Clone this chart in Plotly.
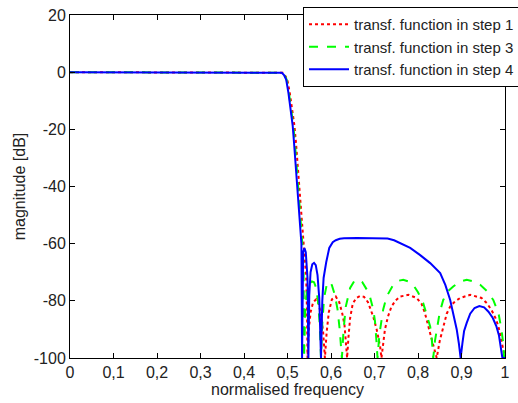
import plotly.graph_objects as go

# Magnitude responses (dB) versus normalised frequency for three design steps

# step 1 (red, dotted)
freq_step1 = [0, 0.48, 0.489, 0.494, 0.4995, 0.505, 0.511, 0.516, 0.5195, 0.5225, 0.5255,
              0.529, 0.532, 0.535, 0.538, 0.541, 0.543, 0.545, 0.546, 0.549, 0.553, 0.559,
              0.566, 0.572, 0.578, 0.582, 0.586, 0.590, 0.595, 0.602, 0.611, 0.619, 0.626,
              0.631, 0.634, 0.637, 0.640, 0.644, 0.650, 0.658, 0.667, 0.676, 0.685, 0.697,
              0.705, 0.709, 0.713, 0.716, 0.720, 0.724, 0.731, 0.739, 0.749, 0.759, 0.778,
              0.797, 0.808, 0.816, 0.828, 0.834, 0.843, 0.850, 0.858, 0.866, 0.874, 0.885,
              0.897, 0.920, 0.946, 0.958, 0.969, 0.978, 0.985, 0.992, 0.997, 1.0]
mag_step1 = [0, 0, -0.2, -1.0, -2.6, -7.0, -13.0, -18.8, -24.7, -30.5, -36.4,
             -42.2, -48.1, -54.0, -60.0, -66.0, -72.0, -85.0, -100, -90.0, -84.0, -80.5,
             -79.5, -81.0, -86.0, -91.0, -100, -91.0, -84.0, -79.5, -78.5, -80.5, -84.5,
             -88.4, -93.0, -100, -93.0, -86.0, -81.0, -79.0, -78.3, -78.6, -80.5, -85.5,
             -90.0, -92.5, -96.0, -100, -94.0, -90.0, -85.5, -82.0, -79.8, -78.5, -77.9,
             -79.0, -81.0, -84.3, -91.4, -95.0, -100, -94.0, -89.0, -84.5, -82.0, -80.2,
             -79.0, -77.9, -79.0, -80.8, -83.2, -86.0, -89.0, -93.7, -97.5, -100]

# step 3 (green, dashed)
freq_step3 = [0, 0.48, 0.488, 0.493, 0.498, 0.503, 0.5085, 0.5135, 0.517, 0.520, 0.523,
              0.526, 0.529, 0.532, 0.535, 0.537, 0.538, 0.541, 0.545, 0.550, 0.556, 0.561,
              0.566, 0.570, 0.574, 0.577, 0.580, 0.584, 0.590, 0.596, 0.602, 0.609, 0.615,
              0.620, 0.625, 0.629, 0.634, 0.644, 0.654, 0.663, 0.672, 0.682, 0.690, 0.697,
              0.701, 0.704, 0.707, 0.710, 0.713, 0.720, 0.728, 0.743, 0.755, 0.766, 0.778,
              0.789, 0.800, 0.812, 0.822, 0.828, 0.832, 0.835, 0.839, 0.843, 0.850, 0.858,
              0.870, 0.881, 0.896, 0.912, 0.928, 0.943, 0.958, 0.973, 0.985, 0.992, 0.996,
              0.998, 1.0]
mag_step3 = [0, 0, -0.2, -1.0, -2.6, -7.0, -13.0, -18.8, -24.7, -30.5, -36.4,
             -42.2, -48.1, -54.0, -62.0, -70.0, -100, -82.0, -76.0, -74.0, -73.2, -73.5,
             -75.5, -80.0, -88.0, -100, -88.0, -79.0, -74.5, -73.2, -74.5, -78.0, -83.0,
             -90.0, -100, -90.0, -82.0, -75.5, -73.0, -72.6, -73.5, -76.0, -78.8, -83.0,
             -87.0, -93.0, -100, -94.0, -90.0, -83.0, -78.5, -74.4, -73.0, -72.6, -73.2,
             -74.4, -77.0, -80.8, -85.5, -89.0, -94.0, -100, -94.0, -90.2, -84.0, -79.7,
             -76.5, -75.0, -73.3, -72.6, -73.2, -74.4, -76.5, -79.7, -84.3, -90.2, -95.0,
             -100, -100]

# step 4 (blue, solid)
freq_step4 = [0, 0.48, 0.487, 0.492, 0.497, 0.502, 0.507, 0.512, 0.515, 0.518, 0.521,
              0.524, 0.527, 0.530, 0.532, 0.5335, 0.536, 0.539, 0.542, 0.546, 0.548, 0.550,
              0.553, 0.557, 0.561, 0.565, 0.569, 0.573, 0.577, 0.580, 0.583, 0.589, 0.596,
              0.604, 0.611, 0.620, 0.630, 0.660, 0.700, 0.730, 0.745, 0.760, 0.782, 0.805,
              0.828, 0.851, 0.863, 0.874, 0.882, 0.889, 0.894, 0.898, 0.902, 0.906, 0.912,
              0.920, 0.930, 0.941, 0.952, 0.962, 0.972, 0.980, 0.986, 0.990, 0.994, 1.0]
mag_step4 = [0, 0, -0.2, -1.0, -2.6, -7.1, -13.0, -18.8, -24.7, -30.5, -36.4,
             -42.2, -48.1, -54.0, -60.0, -100, -63.0, -61.5, -63.0, -72.0, -100, -78.0,
             -70.0, -67.2, -66.7, -67.5, -71.0, -79.0, -100, -80.0, -72.0, -66.5, -61.5,
             -59.5, -58.8, -58.3, -58.1, -58.0, -58.0, -58.2, -58.8, -59.8, -61.5, -64.0,
             -66.8, -70.3, -74.5, -79.7, -85.0, -90.0, -95.0, -100, -95.0, -90.5, -87.7,
             -84.5, -82.5, -81.8, -82.3, -83.8, -86.0, -88.8, -92.0, -95.5, -100, -100]

x_ticks = [0, 0.1, 0.2, 0.3, 0.4, 0.5, 0.6, 0.7, 0.8, 0.9, 1.0]
x_tick_labels = ["0", "0,1", "0,2", "0,3", "0,4", "0,5", "0,6", "0,7", "0,8", "0,9", "1"]
y_ticks = [-100, -80, -60, -40, -20, 0, 20]
y_tick_labels = ["-100", "-80", "-60", "-40", "-20", "0", "20"]

series_names = ["transf. function in step 1", "transf. function in step 3",
                "transf. function in step 4"]

fig = go.Figure()
fig.add_trace(go.Scatter(x=freq_step1, y=mag_step1, mode="lines", name=series_names[0],
                         line=dict(color="#ff0000", width=2, dash="dot")))
fig.add_trace(go.Scatter(x=freq_step3, y=mag_step3, mode="lines", name=series_names[1],
                         line=dict(color="#00ff00", width=2, dash="dash")))
fig.add_trace(go.Scatter(x=freq_step4, y=mag_step4, mode="lines", name=series_names[2],
                         line=dict(color="#0000ff", width=2)))

axis_style = dict(showline=True, linecolor="black", linewidth=1, mirror="ticks",
                  ticks="inside", ticklen=5, tickcolor="black", showgrid=False,
                  zeroline=False, automargin=False,
                  tickfont=dict(size=16, color="#222"))

fig.update_layout(
    width=518, height=403,
    margin=dict(l=70, r=13, t=15, b=45, autoexpand=False),
    paper_bgcolor="white", plot_bgcolor="white",
    font=dict(family="Liberation Sans, Arial, sans-serif", color="#222"),
    xaxis=dict(range=[0, 1], tickvals=x_ticks, ticktext=x_tick_labels,
               title=dict(text="normalised frequency", font=dict(size=16), standoff=2),
               **axis_style),
    yaxis=dict(range=[-100, 20], tickvals=y_ticks, ticktext=y_tick_labels,
               title=dict(text="magnitude [dB]", font=dict(size=16), standoff=4),
               **axis_style),
    legend=dict(x=303 / 518, y=1 - 7 / 403, xref="container", yref="container",
                xanchor="left", yanchor="top",
                bgcolor="white", bordercolor="black", borderwidth=1,
                font=dict(size=15, color="#222"), tracegroupgap=0,
                itemwidth=40),
    showlegend=True,
)

fig.write_html("out.html")
